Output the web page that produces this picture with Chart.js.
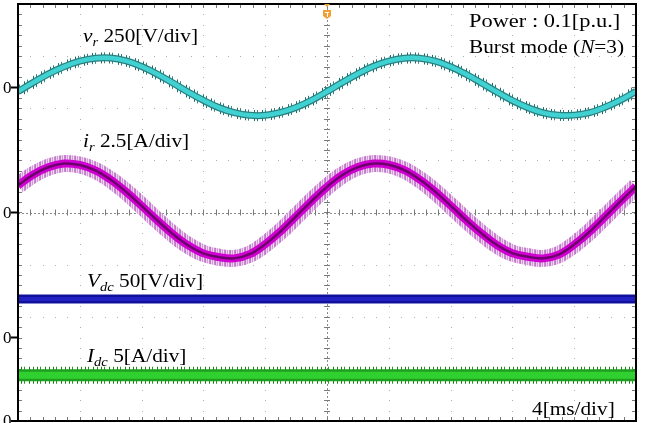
<!DOCTYPE html>
<html><head><meta charset="utf-8">
<script src="https://cdn.jsdelivr.net/npm/chart.js@4/dist/chart.umd.min.js"></script>
<style>
html,body{margin:0;padding:0;background:#fff;}
#wrap{position:relative;width:648px;height:423px;overflow:hidden;font-family:"Liberation Serif","Times New Roman",serif;color:#000;}
canvas{position:absolute;left:0;top:0;}
.lbl{position:absolute;font-size:19px;line-height:19px;white-space:nowrap;transform-origin:0 0;transform:scaleX(1.12);}
.lbl sub{font-size:13px;line-height:0;vertical-align:baseline;position:relative;top:4px;}
.zero{position:absolute;font-size:17px;line-height:17px;left:3px;}
</style></head>
<body><div id="wrap"><canvas id="c" width="648" height="423"></canvas>
<div class="lbl" style="left:83px;top:26px;"><i>v<sub>r</sub></i> 250[V/div]</div>
<div class="lbl" style="left:83px;top:131px;"><i>i<sub>r</sub></i> 2.5[A/div]</div>
<div class="lbl" style="left:87px;top:271px;"><i>V<sub>dc</sub></i> 50[V/div]</div>
<div class="lbl" style="left:87px;top:346px;"><i>I<sub>dc</sub></i> 5[A/div]</div>
<div class="lbl" style="left:469px;top:11px;transform:scaleX(1.18);">Power : 0.1[p.u.]</div>
<div class="lbl" style="left:469px;top:37px;">Burst mode (<i>N</i>=3)</div>
<div class="lbl" style="left:532px;top:399px;">4[ms/div]</div>
</div>
<script>
// ---- data ----
const timeMs = [0,1,2,3,4,5,6,7,8,9,10,11,12,13,14,15,16,17,18,19,20,21,22,23,24,25,26,27,28,29,30,31,32,33,34,35,36,37,38,39,40];
const vrVolts = [-20,24,66,100,126,140,141,127,100,64,22,-22,-62,-97,-121,-134,-134,-120,-96,-62,-20,24,65,101,126,140,140,126,99,63,21,-22,-63,-97,-122,-134,-133,-121,-95,-61,-19];
const irAmps = [1.3,1.82,2.18,2.35,2.28,2.02,1.57,0.99,0.32,-0.37,-1.02,-1.57,-1.96,-2.14,-2.2,-2.0,-1.52,-0.9,-0.18,0.55,1.23,1.8,2.18,2.35,2.29,2.03,1.58,1.0,0.33,-0.36,-1.0,-1.56,-1.95,-2.12,-2.2,-2.02,-1.54,-0.92,-0.2,0.54,1.25];
const vdcVolts = [37,37,37,37,37,37,37,37,37,37,37,37,37,37,37,37,37,37,37,37,37,37,37,37,37,37,37,37,37,37,37,37,37,37,37,37,37,37,37,37,37];
const idcAmps = [4.4,4.4,4.4,4.4,4.4,4.4,4.4,4.4,4.4,4.4,4.4,4.4,4.4,4.4,4.4,4.4,4.4,4.4,4.4,4.4,4.4,4.4,4.4,4.4,4.4,4.4,4.4,4.4,4.4,4.4,4.4,4.4,4.4,4.4,4.4,4.4,4.4,4.4,4.4,4.4,4.4];
const unitsPerDiv = [250, 2.5, 50, 5];      // v_r, i_r, V_dc, I_dc
const zeroLevelDiv = [2.4, 0, -2.4, -4];    // channel ground markers
const xTicksMs = [0,4,8,12,16,20,24,28,32,36,40];
const yTicksDiv = [-4,-3,-2,-1,0,1,2,3,4];

const canvas = document.getElementById('c');
const ctx0 = canvas.getContext('2d');
function stripes(cols){
  const c = document.createElement('canvas'); c.width = cols.length; c.height = 1;
  const g = c.getContext('2d');
  cols.forEach((col,i)=>{ if(col){ g.fillStyle = col; g.fillRect(i,0,1,1);} });
  return ctx0.createPattern(c,'repeat');
}
function pts(vals, ch){ return vals.map((v,i)=>({x:timeMs[i], y: zeroLevelDiv[ch] + v/unitsPerDiv[ch]})); }
function ds(data, color, width, order){
  return {data, borderColor:color, borderWidth:width, pointRadius:0, fill:false,
          tension:0.4, order, borderCapStyle:'butt'};
}

const scopePlugin = {
  id:'scope',
  beforeDatasetsDraw(chart){
    const {ctx, chartArea:a, scales:{x,y}} = chart;
    ctx.save();
    const xMinor = (xTicksMs[1]-xTicksMs[0])/5, yMinor = 0.2;
    const xc = x.getPixelForValue(20), yc = y.getPixelForValue(0);
    ctx.fillStyle = '#b0b0b0';
    xTicksMs.slice(1,-1).forEach(t=>{
      if (t===20) return;
      const px = Math.round(x.getPixelForValue(t));
      for (let v=-4; v<=4.001; v+=yMinor){ ctx.fillRect(px, Math.round(y.getPixelForValue(v)), 1, 1); }
    });
    yTicksDiv.slice(1,-1).forEach(d=>{
      if (d===0) return;
      const py = Math.round(y.getPixelForValue(d));
      for (let t=0; t<=40.001; t+=xMinor){ ctx.fillRect(Math.round(x.getPixelForValue(t)), py, 1, 1); }
    });
    ctx.strokeStyle = '#8a8a8a'; ctx.lineWidth = 1; ctx.setLineDash([2,2]);
    ctx.beginPath(); ctx.moveTo(a.left, Math.round(yc)+0.5); ctx.lineTo(a.right, Math.round(yc)+0.5);
    ctx.moveTo(Math.round(xc)+0.5, a.top); ctx.lineTo(Math.round(xc)+0.5, a.bottom); ctx.stroke();
    ctx.setLineDash([]);
    ctx.strokeStyle = '#7a7a7a';
    ctx.beginPath();
    for (let t=0; t<=40.001; t+=xMinor){
      const px = Math.round(x.getPixelForValue(t))+0.5;
      ctx.moveTo(px, yc-3); ctx.lineTo(px, yc+3);
      ctx.moveTo(px, a.top); ctx.lineTo(px, a.top+4);
      ctx.moveTo(px, a.bottom); ctx.lineTo(px, a.bottom-4);
    }
    for (let v=-4; v<=4.001; v+=yMinor){
      const py = Math.round(y.getPixelForValue(v))+0.5;
      ctx.moveTo(xc-3, py); ctx.lineTo(xc+3, py);
      ctx.moveTo(a.left, py); ctx.lineTo(a.left+4, py);
      ctx.moveTo(a.right, py); ctx.lineTo(a.right-4, py);
    }
    ctx.stroke();
    ctx.restore();
  },
  afterDatasetsDraw(chart){
    const {ctx, chartArea:a, scales:{x,y}} = chart;
    ctx.save();
    ctx.strokeStyle = '#000'; ctx.lineWidth = 2;
    ctx.strokeRect(a.left, a.top, a.right-a.left, a.bottom-a.top);
    ctx.beginPath();
    zeroLevelDiv.forEach(z=>{ const py = y.getPixelForValue(z); ctx.moveTo(a.left-7, py); ctx.lineTo(a.left, py); });
    ctx.stroke();
    const xc = x.getPixelForValue(20);
    ctx.fillStyle = '#f0a030';
    ctx.beginPath(); ctx.moveTo(xc-3, a.top); ctx.lineTo(xc+3, a.top); ctx.lineTo(xc, a.top+3); ctx.closePath(); ctx.fill();
    ctx.beginPath(); ctx.moveTo(xc-4, a.top+6); ctx.lineTo(xc+4, a.top+6); ctx.lineTo(xc+4, a.top+12); ctx.lineTo(xc, a.top+15); ctx.lineTo(xc-4, a.top+12); ctx.closePath(); ctx.fill();
    ctx.strokeStyle = '#fff'; ctx.lineWidth = 1;
    ctx.beginPath(); ctx.moveTo(xc-2, a.top+8.5); ctx.lineTo(xc+2, a.top+8.5); ctx.moveTo(xc+0.5, a.top+8.5); ctx.lineTo(xc+0.5, a.top+13); ctx.stroke();
    ctx.restore();
  },
  afterRender(chart){
    if (chart._zeroDone) return; chart._zeroDone = true;
    const y = chart.scales.y, wrap = document.getElementById('wrap');
    zeroLevelDiv.forEach(z=>{
      const d = document.createElement('div'); d.className = 'zero'; d.textContent = '0';
      d.style.top = (y.getPixelForValue(z) - 8.6) + 'px'; wrap.appendChild(d);
    });
  }
};

new Chart(canvas, {
  type:'line',
  data:{ datasets:[
    ds(pts(irAmps,1), stripes(['#c07ac8','#ecd0ef','#d29ad8','#f2dcf4','#c888cf']), 17, 20),
    ds(pts(irAmps,1), '#d000d0', 8, 19),
    ds(pts(irAmps,1), '#6c006c', 2.5, 18),
    ds(pts(vrVolts,0), stripes(['','','#2a7c7c','','','','','#1e6a6a','','','#2f8c8c','','','','','','#1e6a6a']), 11, 17),
    ds(pts(vrVolts,0), '#2a8080', 7, 16),
    ds(pts(vrVolts,0), '#40d2d2', 4.5, 15),
    ds(pts(vdcVolts,2), '#10109c', 9, 14),
    ds(pts(vdcVolts,2), '#2222c2', 4, 13),
    ds(pts(idcAmps,3), stripes(['','#1a8a1a','','','','#157a15','','','#1f9a1f','','','','','#157a15','','']), 17, 12),
    ds(pts(idcAmps,3), '#1f9f1f', 12, 11),
    ds(pts(idcAmps,3), '#30d030', 7, 10),
  ]},
  options:{
    responsive:false, animation:false, devicePixelRatio:1, events:[],
    layout:{padding:{left:18, right:12, top:4, bottom:2}},
    plugins:{legend:{display:false}, tooltip:{enabled:false}},
    scales:{
      x:{type:'linear', min:0, max:40, display:false},
      y:{type:'linear', min:-4, max:4, display:false}
    }
  },
  plugins:[scopePlugin]
});
</script>
</body></html>
